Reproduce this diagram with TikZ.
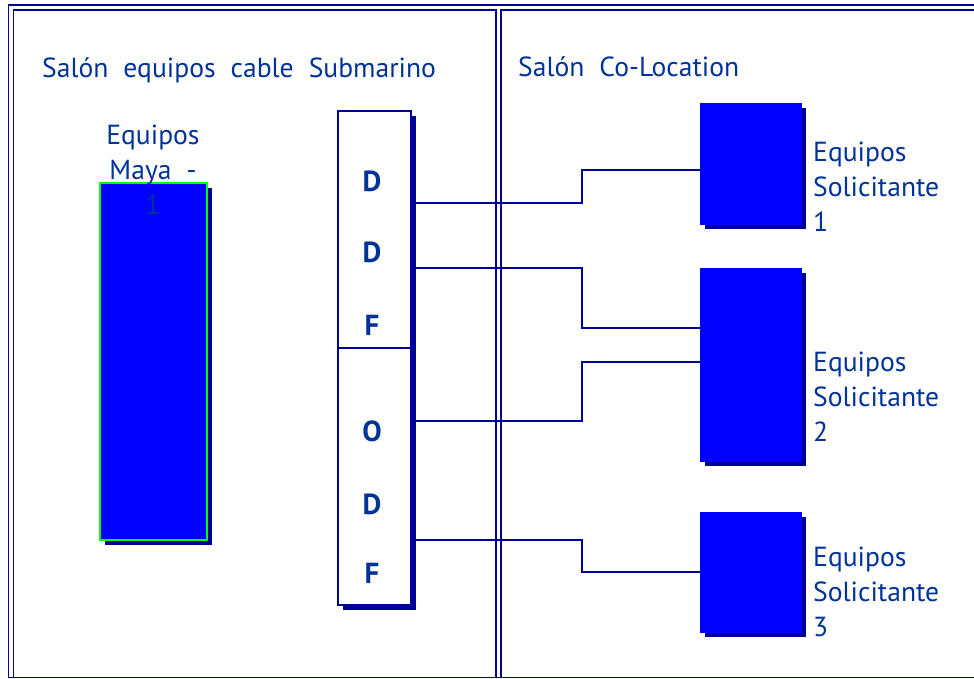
\documentclass[tikz,border=0pt]{standalone}
\usepackage{fontspec}
\setmainfont{PT Sans}
\usetikzlibrary{shadows}
\definecolor{navy}{RGB}{0,0,153}
\definecolor{txt}{RGB}{0,51,153}
\definecolor{bblue}{RGB}{0,0,255}
\definecolor{bgreen}{RGB}{0,255,0}
\newcommand\widespaces{\spaceskip 15pt\relax}
\newcommand\lblfont{\fontsize{27.6}{35}\selectfont\widespaces}
\newcommand\letfont{\fontsize{29}{35}\selectfont\bfseries}
\tikzset{
  frame/.style={draw=navy, line width=1.8pt},
  shbox/.style={rectangle, draw=bblue, fill=bblue, line width=0.8pt, inner sep=0pt,
    general shadow={fill=navy, shadow xshift=5pt, shadow yshift=-5pt}},
  conn/.style={draw=navy, line width=2.4pt},
  lbl/.style={text=txt, inner sep=0pt, font=\lblfont},
  letter/.style={text=txt, inner sep=0pt, font=\letfont},
}
\begin{document}
\begin{tikzpicture}[x=1pt,y=-1pt]
\useasboundingbox (0,0) rectangle (974,679);
% room frames
\draw[frame] (8.5,5) rectangle (990,677.5);
\draw[frame] (13.5,10) rectangle (496,677.5);
\draw[frame] (501,10) rectangle (990,677.5);
% titles
\node[lbl, anchor=west] (t1) at (42,70) {Salón equipos cable Submarino};
\node[lbl, anchor=west] (t2) at (518,67) {Salón Co-Location};
% Maya equipment
\node[shbox, draw=bgreen, line width=2pt, minimum width=107pt, minimum height=357pt] (maya) at (153.5,361.5) {};
\node[lbl, align=center] (mayal) at (153,170) {Equipos\\Maya -\\1};
% DDF / ODF
\node[rectangle, draw=navy, fill=white, line width=1.5pt, minimum width=73pt, minimum height=494pt,
  general shadow={fill=navy, shadow xshift=5pt, shadow yshift=-5pt}] (ddf) at (374.5,358) {};
\draw[navy, line width=1.5pt] (ddf.west |- 0,348) -- (ddf.east |- 0,348);
\node[letter] (l1) at (372,181) {D};
\node[letter] (l2) at (372,252) {D};
\node[letter] (l3) at (372,325) {F};
\node[letter] (l4) at (372,431) {O};
\node[letter] (l5) at (372,504) {D};
\node[letter] (l6) at (372,573) {F};
% requesting equipment
\node[shbox, minimum width=101pt, minimum height=121pt] (s1) at (750.5,163.5) {};
\node[shbox, minimum width=101pt, minimum height=193pt] (s2) at (750.5,364.5) {};
\node[shbox, minimum width=101pt, minimum height=120pt] (s3) at (750.5,572) {};
\node[lbl, align=left, anchor=west] (s1l) at (813,187) {Equipos\\Solicitante\\1};
\node[lbl, align=left, anchor=west] (s2l) at (813,397) {Equipos\\Solicitante\\2};
\node[lbl, align=left, anchor=west] (s3l) at (813,592) {Equipos\\Solicitante\\3};
% connectors
\draw[conn] (ddf.east |- 0,203) -- (582,203) -- (582,170) -- (s1.west |- 0,170);
\draw[conn] (ddf.east |- 0,268) -- (582,268) -- (582,328) -- (s2.west |- 0,328);
\draw[conn] (ddf.east |- 0,421) -- (582,421) -- (582,362) -- (s2.west |- 0,362);
\draw[conn] (ddf.east |- 0,540) -- (582,540) -- (582,572) -- (s3.west |- 0,572);
\end{tikzpicture}
\end{document}
